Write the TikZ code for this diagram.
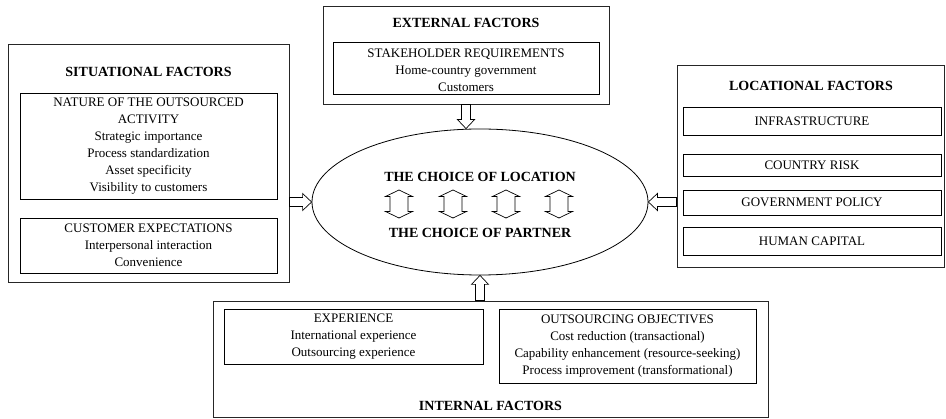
\documentclass[tikz,border=0pt]{standalone}
\usepackage{fontspec}
\setmainfont{Liberation Serif}
\usetikzlibrary{calc,shapes.geometric}

\tikzset{
  frame/.style={draw=black!85, line width=0.9pt, inner sep=0pt},
  panel/.style={draw=black, line width=0.8pt, inner sep=0pt, align=center,
                font=\fontsize{13}{17}\selectfont},
  body/.style={align=center, inner sep=0pt, font=\fontsize{13}{17}\selectfont},
  head/.style={align=center, inner sep=0pt, font=\fontsize{14}{17}\selectfont\bfseries},
  hollow/.style={draw=black, line width=0.7pt, fill=white, line join=miter},
}

% hollow block arrow from #1 to #2 (tip at #2)
\newcommand\blockarrow[2]{%
  \draw[hollow]
    ($(#1)!4.5pt!90:(#2)$) --
    ($($(#2)!9pt!(#1)$)!4.5pt!-90:(#1)$) --
    ($($(#2)!9pt!(#1)$)!8.5pt!-90:(#1)$) --
    (#2) --
    ($($(#2)!9pt!(#1)$)!8.5pt!90:(#1)$) --
    ($($(#2)!9pt!(#1)$)!4.5pt!90:(#1)$) --
    ($(#1)!4.5pt!-90:(#2)$) -- cycle;}

% vertical double-headed hollow arrow centred at x = #1
\newcommand\twinarrow[1]{%
  \draw[hollow] (#1,190) -- ++(13.5,6.5) -- ++(-4.5,0) -- ++(0,15) -- ++(4.5,0)
    -- ++(-13.5,6.5) -- ++(-13.5,-6.5) -- ++(4.5,0) -- ++(0,-15) -- ++(-4.5,0) -- cycle;}

\begin{document}
\begin{tikzpicture}[x=1pt,y=-1pt]
\useasboundingbox (0,0) rectangle (946,419);

% external factors
\node[frame, minimum width=286pt, minimum height=98pt] (ext) at (466,55) {};
\node[head] (extT) at (466,23) {EXTERNAL FACTORS};
\node[panel, minimum width=266pt, minimum height=52pt] (extIn) at (466,68) {};
\node[body] (extL) at (466,70) {STAKEHOLDER REQUIREMENTS\\Home-country government\\Customers};

% situational factors
\node[frame, minimum width=281pt, minimum height=238pt] (sit) at (148.5,163) {};
\node[head] (sitT) at (148.5,72) {SITUATIONAL FACTORS};
\node[panel, minimum width=257pt, minimum height=106pt] (sitA) at (148.5,146) {};
\node[body] (sitAL) at (148.5,146) {NATURE OF THE OUTSOURCED\\ACTIVITY\\Strategic importance\\Process standardization\\Asset specificity\\Visibility to customers};
\node[panel, minimum width=257pt, minimum height=55pt] (sitB) at (148.5,245.5) {};
\node[body] (sitBL) at (148.5,245.5) {CUSTOMER EXPECTATIONS\\Interpersonal interaction\\Convenience};

% locational factors
\node[frame, minimum width=267.5pt, minimum height=202pt] (loc) at (810.75,166) {};
\node[head] (locT) at (811,86) {LOCATIONAL FACTORS};
\node[panel, minimum width=258pt, minimum height=28pt] (locA) at (812,121) {INFRASTRUCTURE};
\node[panel, minimum width=258pt, minimum height=22pt] (locB) at (812,165) {COUNTRY RISK};
\node[panel, minimum width=258pt, minimum height=25pt] (locC) at (812,202.5) {GOVERNMENT POLICY};
\node[panel, minimum width=258pt, minimum height=28pt] (locD) at (812,241) {HUMAN CAPITAL};

% internal factors
\node[frame, minimum width=555pt, minimum height=116.5pt] (int) at (490.5,359.25) {};
\node[head] (intT) at (490.5,406) {INTERNAL FACTORS};
\node[panel, minimum width=259pt, minimum height=55pt] (intA) at (353.5,336.5) {};
\node[body] (intAL) at (353.5,337) {EXPERIENCE\\International experience\\Outsourcing experience};
\node[panel, minimum width=257pt, minimum height=74pt] (intB) at (627.5,346) {};
\node[body] (intBL) at (627.5,346) {OUTSOURCING OBJECTIVES\\Cost reduction (transactional)\\Capability enhancement (resource-seeking)\\Process improvement (transformational)};

% the central decision
\node[draw, ellipse, line width=0.8pt, inner sep=0pt,
      minimum width=336pt, minimum height=146pt] (ell) at (480,202) {};
\node[head] (choiceA) at (480,177) {THE CHOICE OF LOCATION};
\node[head] (choiceB) at (480,233) {THE CHOICE OF PARTNER};
\twinarrow{399}
\twinarrow{453}
\twinarrow{506}
\twinarrow{559}

% influences on the decision
\coordinate (dnS) at (ext.south);
\coordinate (dnT) at (ext.south |- ell.north);
\coordinate (upS) at (int.north -| ell.south);
\coordinate (rtS) at (sit.east |- ell.west);
\coordinate (ltS) at (loc.west |- ell.east);
\blockarrow{dnS}{dnT}
\blockarrow{upS}{ell.south}
\blockarrow{rtS}{ell.west}
\blockarrow{ltS}{ell.east}
\end{tikzpicture}
\end{document}
